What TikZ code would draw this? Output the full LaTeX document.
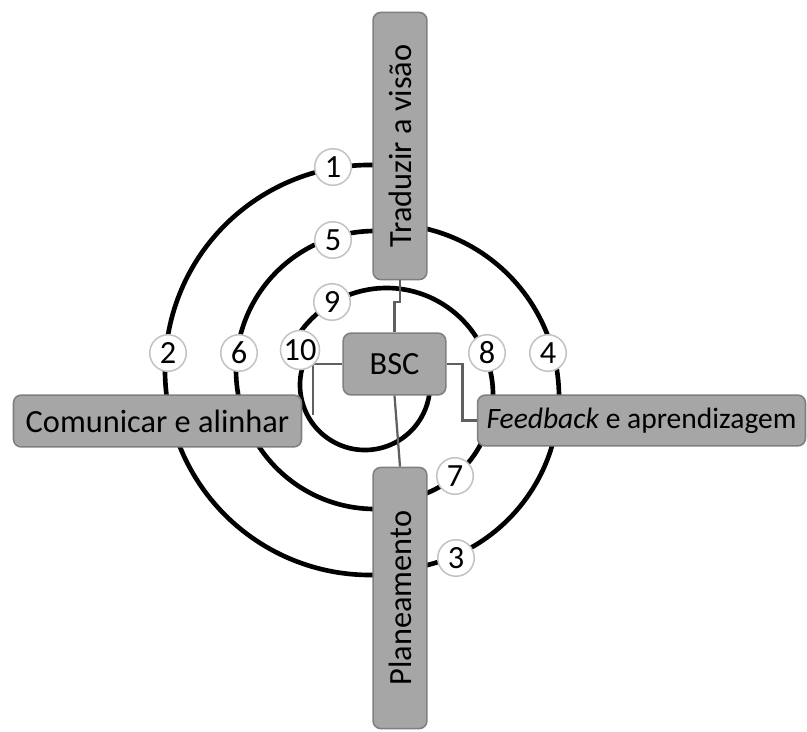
\documentclass[tikz,border=0pt]{standalone}
\usepackage{fontspec}
\setmainfont{Carlito}
\definecolor{panelfill}{HTML}{A6A6A6}
\definecolor{panelline}{HTML}{7F7F7F}
\definecolor{linkgray}{HTML}{5F5F5F}
\definecolor{numline}{HTML}{C4C4C4}
\tikzset{
  ring/.style={line width=3.3pt,black},
  link/.style={line width=1.6pt,linkgray},
  panel/.style={draw=panelline,line width=1.1pt,fill=panelfill,rounded corners=5.5pt,inner sep=0pt,font=\fontsize{23}{27}\selectfont},
  num/.style={circle,draw=numline,line width=1.1pt,fill=white,minimum size=26pt,inner sep=0pt,font=\fontsize{23}{27}\selectfont}
}
\begin{document}
\begin{tikzpicture}[x=0.025cm,y=-0.025cm]
    \useasboundingbox (0,0) rectangle (807,731);
    % spiral
    \draw[ring] ([shift={(-80:205)}]370,370) arc[start angle=-80,end angle=-280,radius=205];
    \draw[ring] ([shift={(92:173)}]386,397) arc[start angle=92,end angle=-92,radius=173];
    \draw[ring] ([shift={(-85:139)}]375,370) arc[start angle=-85,end angle=-275,radius=139];
    \draw[ring] ([shift={(80:106.5)}]386.5,394.5) arc[start angle=80,end angle=-150,radius=106.5];
    \draw[ring] ([shift={(-150:65)}]365,385) arc[start angle=-150,end angle=-365,radius=65];
    % boxes
    \node[panel,rotate=90,minimum width=190pt,minimum height=38.3pt] (trad) at (400,146) {Traduzir a visão};
    \node[panel,rotate=90,minimum width=185.7pt,minimum height=38.3pt] (plan) at (400,598) {Planeamento};
    \node[panel,minimum width=204.8pt,minimum height=36.9pt] (com) at (157.5,421) {Comunicar e alinhar};
    \node[panel,minimum width=233.2pt,minimum height=36.2pt,font=\fontsize{21}{25}\selectfont] (fb) at (641.5,420.5) {\itshape Feedback\upshape{} e aprendizagem};
    \node[panel,minimum width=73pt,minimum height=43.9pt] (bsc) at (394.5,364) {BSC};
    \coordinate (comtip) at (313,415);
    % links
    \draw[link] (trad.west) -- ++(0,22) -| (bsc.north);
    \draw[link] (bsc.south) -- (plan.east);
    \draw[link] (bsc.west) -| (comtip);
    \draw[link] (bsc.east) -- ++(16,0) |- (fb.west);
    % numbers
    \foreach \k/\x/\y in {1/333/167,2/168/353,3/456/558,4/548/353,5/333/240,6/239/353,7/455/476,8/487/353,9/332/302,10/300/350}
        \node[num] (n\k) at (\x,\y) {\k};
\end{tikzpicture}
\end{document}
